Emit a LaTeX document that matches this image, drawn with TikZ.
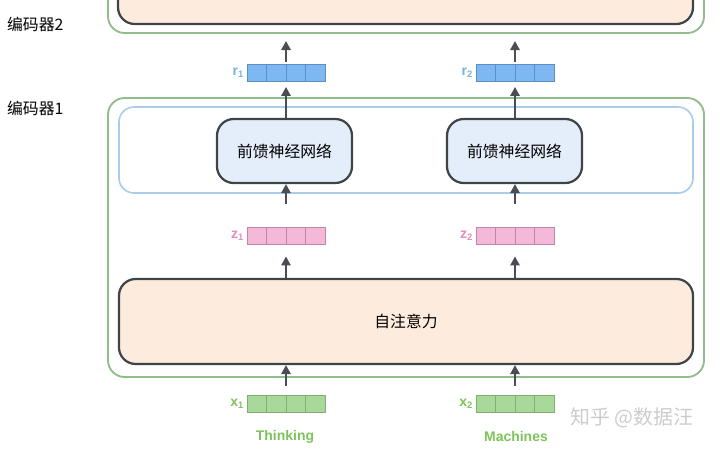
\documentclass[tikz,border=0pt]{standalone}
\usepackage{fontspec}
\setmainfont{Liberation Sans}
\newfontfamily\cjk{Noto Sans CJK SC}
\usetikzlibrary{arrows.meta,calc,positioning}
\definecolor{encgreen}{HTML}{93BC8C}
\definecolor{wrapblue}{HTML}{A9CCEB}
\definecolor{boxdark}{HTML}{3F4449}
\definecolor{peach}{HTML}{FDEBDD}
\definecolor{ffblue}{HTML}{E4EEFA}
\definecolor{arrowgray}{HTML}{4A4E54}
\definecolor{rfill}{HTML}{7DB8F2}
\definecolor{redge}{HTML}{5E8FC2}
\definecolor{rtext}{HTML}{73B3E3}
\definecolor{zfill}{HTML}{F4B8D9}
\definecolor{zedge}{HTML}{BF86A8}
\definecolor{ztext}{HTML}{E78AC0}
\definecolor{xfill}{HTML}{A9D99A}
\definecolor{xedge}{HTML}{80AE73}
\definecolor{xtext}{HTML}{7DC35A}
\tikzset{
    encbox/.style={draw=encgreen, line width=1.6pt, rounded corners=0.5cm},
    wrapbox/.style={draw=wrapblue, line width=1.4pt, rounded corners=0.45cm},
    darkbox/.style={draw=boxdark, line width=1.9pt, rounded corners=0.5cm, inner sep=0pt, font=\cjk\fontsize{13.5}{16}\selectfont},
    vecbox/.style={draw=#1edge, fill=#1fill, line width=0.8pt, minimum width=2.34cm, minimum height=0.51cm, inner sep=0pt},
    veclabel/.style={text=#1text, inner sep=2pt, font=\bfseries\fontsize{12}{14}\selectfont},
    flow/.style={draw=arrowgray, line width=1.7pt, -{Triangle[length=0.27cm,width=0.28cm]}},
    word/.style={text=xtext, font=\bfseries\fontsize{11.9}{14}\selectfont}}
\newcommand{\vcells}[1]{\foreach \k in {1,2,3}{\draw[draw=#1edge, line width=0.8pt] ($(#1a.south west)!\k/4!(#1a.south east)$) -- ($(#1a.north west)!\k/4!(#1a.north east)$);}}
\newcommand{\vcellsb}[1]{\foreach \k in {1,2,3}{\draw[draw=#1edge, line width=0.8pt] ($(#1b.south west)!\k/4!(#1b.south east)$) -- ($(#1b.north west)!\k/4!(#1b.north east)$);}}

\begin{document}
\begin{tikzpicture}[x=0.03cm,y=-0.03cm]
\useasboundingbox (0,0) rectangle (720,449);
\clip (0,0) rectangle (720,449);
% encoder 2 (cut at the top)
\draw[encbox] (108,-60) rectangle (704,33);
\draw[darkbox, fill=peach] (118,-60) rectangle (693,24);
\coordinate (enc2) at (0,33);
\node[anchor=west, font=\cjk\fontsize{13.5}{16}\selectfont] (enclabel2) at (3,24) {编码器2};
% encoder 1
\draw[encbox] (108,98) rectangle (704,377);
\node[anchor=west, font=\cjk\fontsize{13.5}{16}\selectfont] (enclabel1) at (3,108) {编码器1};
\draw[wrapbox] (119,107) rectangle (693,193);
\node[darkbox, fill=ffblue, minimum width=4.05cm, minimum height=1.92cm] (ff1) at (284.5,151) {前馈神经网络};
\node[darkbox, fill=ffblue, minimum width=4.05cm, minimum height=1.92cm] (ff2) at (514.5,151) {前馈神经网络};
\node[darkbox, fill=peach, minimum width=17.22cm, minimum height=2.55cm] (att) at (406,321.5) {自注意力};
% vectors
\node[vecbox=r, label={[veclabel=r]left:r\textsubscript{1}}] (ra) at (286,73) {};
\node[vecbox=r, label={[veclabel=r]left:r\textsubscript{2}}] (rb) at (515,73) {};
\node[vecbox=z, label={[veclabel=z]left:z\textsubscript{1}}] (za) at (286,235.5) {};
\node[vecbox=z, label={[veclabel=z]left:z\textsubscript{2}}] (zb) at (515,235.5) {};
\node[vecbox=x, label={[veclabel=x]left:x\textsubscript{1}}] (xa) at (286,403.5) {};
\node[vecbox=x, label={[veclabel=x]left:x\textsubscript{2}}] (xb) at (515,403.5) {};
\vcells{r} \vcellsb{r}
\vcells{z} \vcellsb{z}
\vcells{x} \vcellsb{x}
\node[word] (w1) at (285,437) {Thinking};
\node[word] (w2) at (516,437) {Machines};
% arrows
\draw[flow, shorten <=0.27cm] (xa.north) -- (xa.north |- att.south);
\draw[flow, shorten <=0.27cm] (xb.north) -- (xb.north |- att.south);
\draw[flow, shorten >=0.36cm] (za.south |- att.north) -- (za.south);
\draw[flow, shorten >=0.36cm] (zb.south |- att.north) -- (zb.south);
\draw[flow, shorten <=0.69cm] (za.north) -- (za.north |- ff1.south);
\draw[flow, shorten <=0.69cm] (zb.north) -- (zb.north |- ff2.south);
\draw[flow, shorten >=0.15cm] (ra.south |- ff1.north) -- (ra.south);
\draw[flow, shorten >=0.15cm] (rb.south |- ff2.north) -- (rb.south);
\draw[flow, shorten <=0.06cm, shorten >=0.24cm] (ra.north) -- (ra.north |- enc2);
\draw[flow, shorten <=0.06cm, shorten >=0.24cm] (rb.north) -- (rb.north |- enc2);
% watermark
\node[text=black!20, font=\cjk\fontsize{17}{20}\selectfont] (mark) at (632,418) {知乎 @数据汪};
\end{tikzpicture}
\end{document}
